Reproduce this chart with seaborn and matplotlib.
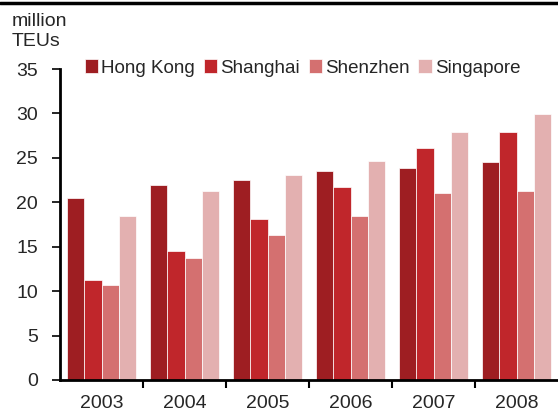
import pandas as pd
import matplotlib.pyplot as plt
import seaborn as sns
from matplotlib.lines import Line2D
from matplotlib.ticker import FixedLocator

# --- DATOS ---
anios = ["2003", "2004", "2005", "2006", "2007", "2008"]
hong_kong = [20.5, 21.9, 22.5, 23.5, 23.9, 24.5]
shanghai = [11.3, 14.5, 18.1, 21.7, 26.1, 27.9]
shenzhen = [10.7, 13.7, 16.3, 18.5, 21.1, 21.3]
singapore = [18.5, 21.3, 23.1, 24.7, 27.9, 29.9]
puertos = ["Hong Kong", "Shanghai", "Shenzhen", "Singapore"]
colores = ["#9E1E22", "#C0262B", "#D47070", "#E3B0B0"]

df = pd.DataFrame({
    "anio": anios * 4,
    "puerto": [p for p in puertos for _ in anios],
    "teu": hong_kong + shanghai + shenzhen + singapore,
})

# --- ESTILO ---
sns.set_style("white")
plt.rcParams["font.family"] = ["Liberation Sans", "DejaVu Sans"]
plt.rcParams["font.size"] = 14

fig = plt.figure(figsize=(5.58, 4.12), dpi=100)
ax = fig.add_axes([60 / 558, 32 / 412, 498 / 558, 311 / 412])

sns.barplot(data=df, x="anio", y="teu", hue="puerto", order=anios,
            hue_order=puertos, palette=colores, width=0.83, saturation=1,
            edgecolor="white", linewidth=0.5, ax=ax)

ax.set_ylim(0, 35)
ax.set_xlim(-0.5, 5.5)
ax.set_yticks(range(0, 36, 5))
ax.set_xlabel("")
ax.set_ylabel("")
for s in ["top", "right"]:
    ax.spines[s].set_visible(False)
for s in ["left", "bottom"]:
    ax.spines[s].set_linewidth(2)
    ax.spines[s].set_color("black")

ax.tick_params(axis="y", direction="out", length=6, width=1.2, color="black",
               labelsize=14, pad=10, left=True)
ax.tick_params(axis="x", which="major", length=0, labelsize=14, pad=11)
ax.xaxis.set_minor_locator(FixedLocator([0.5, 1.5, 2.5, 3.5, 4.5]))
ax.tick_params(axis="x", which="minor", direction="out", length=6, width=1.5,
               color="black", bottom=True)

# leyenda arriba
ax.legend(loc="center left", bbox_to_anchor=(77 / 558, 1 - 68 / 412),
          bbox_transform=fig.transFigure, ncol=4, frameon=False,
          handlelength=0.7, handleheight=0.7, handletextpad=0.2,
          columnspacing=0.45, borderaxespad=0, fontsize=13.5)

fig.text(12 / 558, 1 - 13 / 412, "million\nTEUs", ha="left", va="top",
         fontsize=14, linespacing=1.25)

fig.add_artist(Line2D([0, 1], [1 - 3 / 412, 1 - 3 / 412], lw=2.5,
                      color="black", transform=fig.transFigure))

fig.savefig("out.png", dpi=100)
